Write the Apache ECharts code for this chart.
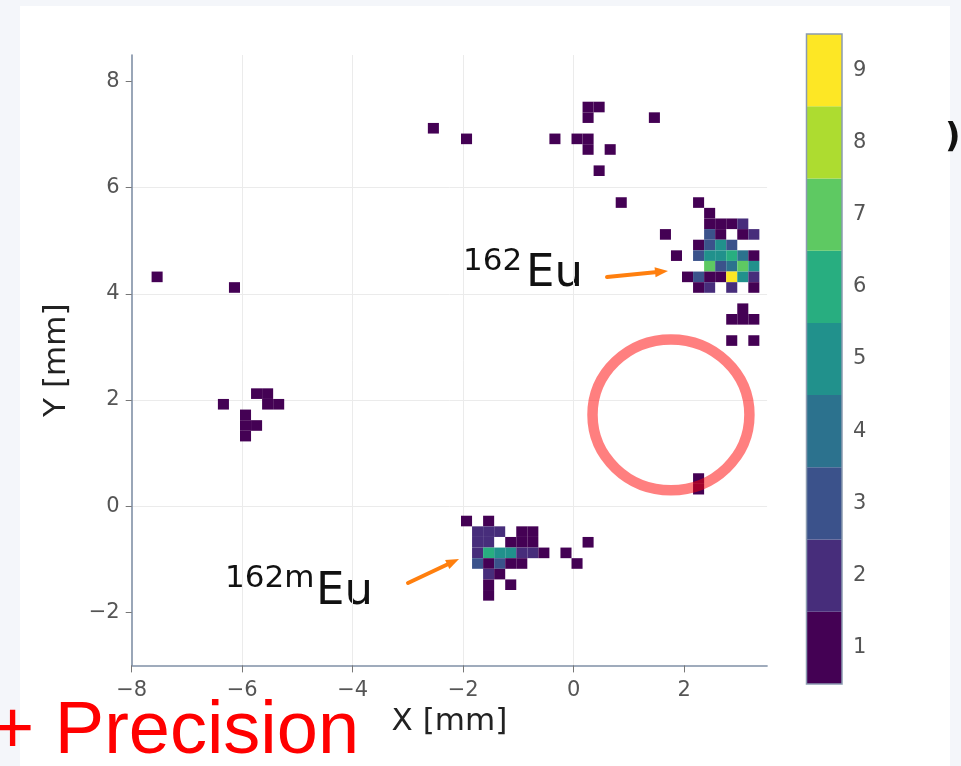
<!DOCTYPE html>
<html>
<head>
<meta charset="utf-8">
<title>162Eu / 162mEu hit map</title>
<script src="https://cdn.jsdelivr.net/npm/echarts@6/dist/echarts.min.js"></script>
<style>
  html, body { margin: 0; padding: 0; background: #f4f6fa; }
  #panel { position: absolute; left: 20px; top: 6px; width: 930px; height: 760px; background: #fff; }
  #chart { position: absolute; left: 0; top: 0; width: 961px; height: 766px; }
</style>
</head>
<body>
<div id="panel"></div>
<div id="chart"></div>
<script>
  var binSize = 0.2;

  // counts per 0.2 mm bin: [x centre, y centre, counts]
  var eu162Cells = [
    [2.26, 5.72, 1], [2.46, 5.52, 1],
    [2.46, 5.32, 1], [2.66, 5.32, 1], [2.86, 5.32, 1], [3.06, 5.32, 2],
    [1.66, 5.12, 1], [2.46, 5.12, 3], [2.66, 5.12, 1], [3.06, 5.12, 1], [3.26, 5.12, 2],
    [2.26, 4.92, 1], [2.46, 4.92, 3], [2.66, 4.92, 5], [2.86, 4.92, 3],
    [1.86, 4.72, 1], [2.26, 4.72, 3], [2.46, 4.72, 5], [2.66, 4.72, 5], [2.86, 4.72, 6], [3.06, 4.72, 4], [3.26, 4.72, 1],
    [2.46, 4.52, 7], [2.66, 4.52, 3], [2.86, 4.52, 4], [3.06, 4.52, 7], [3.26, 4.52, 5],
    [2.06, 4.32, 1], [2.26, 4.32, 3], [2.46, 4.32, 1], [2.66, 4.32, 1], [2.86, 4.32, 9], [3.06, 4.32, 5], [3.26, 4.32, 2],
    [2.26, 4.12, 1], [2.46, 4.12, 2], [2.86, 4.12, 2], [3.26, 4.12, 1],
    [3.06, 3.72, 1], [2.86, 3.52, 1], [3.06, 3.52, 1], [3.26, 3.52, 1],
    [2.86, 3.12, 1], [3.26, 3.12, 1]
  ];

  var eu162mCells = [
    [-1.94, -0.28, 1], [-1.54, -0.28, 1],
    [-1.74, -0.48, 2], [-1.54, -0.48, 2], [-1.34, -0.48, 2], [-0.94, -0.48, 1], [-0.74, -0.48, 1],
    [-1.74, -0.68, 2], [-1.54, -0.68, 2], [-1.14, -0.68, 1], [-0.94, -0.68, 1], [-0.74, -0.68, 1], [0.26, -0.68, 1],
    [-1.74, -0.88, 2], [-1.54, -0.88, 6], [-1.34, -0.88, 5], [-1.14, -0.88, 5], [-0.94, -0.88, 2], [-0.74, -0.88, 2],
    [-0.54, -0.88, 1], [-0.14, -0.88, 1],
    [-1.74, -1.08, 3], [-1.54, -1.08, 1], [-1.34, -1.08, 3], [-1.14, -1.08, 1], [-0.94, -1.08, 1], [0.06, -1.08, 1],
    [-1.54, -1.28, 2], [-1.34, -1.28, 1],
    [-1.54, -1.48, 1], [-1.14, -1.48, 1],
    [-1.54, -1.68, 1]
  ];

  var otherCells = [
    [-2.54, 7.12, 1], [-1.94, 6.92, 1], [-0.34, 6.92, 1], [0.06, 6.92, 1], [0.26, 6.92, 1],
    [0.26, 6.72, 1], [0.26, 7.52, 1], [0.46, 7.52, 1], [0.26, 7.32, 1], [0.66, 6.72, 1],
    [0.46, 6.32, 1], [1.46, 7.32, 1], [0.86, 5.72, 1],
    [-7.54, 4.32, 1], [-6.14, 4.12, 1], [-6.34, 1.92, 1], [-5.74, 2.12, 1], [-5.54, 2.12, 1],
    [-5.54, 1.92, 1], [-5.34, 1.92, 1], [-5.94, 1.72, 1], [-5.94, 1.52, 1], [-5.94, 1.32, 1],
    [-5.74, 1.52, 1],
    [2.26, 0.52, 1], [2.26, 0.32, 1]
  ];

  // source spot: centre x, centre y, radius (mm)
  var sourceCircle = [[1.76, 1.72, 1.42]];

  var countLevels = [1, 2, 3, 4, 5, 6, 7, 8, 9];
  var levelColors = ['#440154', '#472d7b', '#3b528b', '#2c728e', '#21918c',
                     '#28ae80', '#5ec962', '#addc30', '#fde725'];
  var xTicks = [-8, -6, -4, -2, 0, 2];
  var yTicks = [-2, 0, 2, 4, 6, 8];

  var font = 'DejaVu Sans';
  var axisColor = '#8090a6';

  function minusLabel(v) {
    return v < 0 ? '\u2212' + Math.abs(v) : String(v);
  }

  function renderCell(params, api) {
    var p = api.coord([api.value(0) - binSize / 2, api.value(1) + binSize / 2]);
    var s = api.size([binSize, binSize]);
    return {
      type: 'rect',
      shape: { x: p[0], y: p[1], width: s[0], height: s[1] },
      style: { fill: levelColors[api.value(2) - 1] }
    };
  }

  function renderLevel(params, api) {
    var v = api.value(1);
    var p = api.coord([0, v + 0.5]);
    var s = api.size([1, 1]);
    return {
      type: 'rect',
      shape: { x: p[0], y: p[1], width: s[0], height: s[1] },
      style: { fill: levelColors[v - 1] }
    };
  }

  function renderRing(params, api) {
    var c = api.coord([api.value(0), api.value(1)]);
    var r = api.size([api.value(2), api.value(2)]);
    return {
      type: 'ellipse',
      shape: { cx: c[0], cy: c[1], rx: r[0], ry: r[1] },
      style: { fill: 'none', stroke: 'rgba(255,0,0,0.5)', lineWidth: 10.5 }
    };
  }

  function arrow(x1, y1, x2, y2) {
    var a = Math.atan2(y2 - y1, x2 - x1);
    var len = 13, half = 5;
    var bx = x2 - len * Math.cos(a), by = y2 - len * Math.sin(a);
    return [
      { type: 'line', shape: { x1: x1, y1: y1, x2: bx, y2: by },
        style: { stroke: '#ff7f0e', lineWidth: 4, lineCap: 'round' } },
      { type: 'polygon', shape: { points: [
          [x2, y2],
          [bx + half * Math.sin(a), by - half * Math.cos(a)],
          [bx - half * Math.sin(a), by + half * Math.cos(a)]
        ] }, style: { fill: '#ff7f0e' } }
    ];
  }

  var chart = echarts.init(document.getElementById('chart'));

  var graphics = [
    { type: 'text', x: 463, y: 262, style: { text: '162', font: '31px "DejaVu Sans"', fill: '#111', verticalAlign: 'middle' } },
    { type: 'text', x: 526, y: 274, style: { text: 'Eu', font: '45px "DejaVu Sans"', fill: '#111', verticalAlign: 'middle' } },
    { type: 'text', x: 225, y: 579, style: { text: '162m', font: '31px "DejaVu Sans"', fill: '#111', verticalAlign: 'middle' } },
    { type: 'text', x: 316, y: 592, style: { text: 'Eu', font: '45px "DejaVu Sans"', fill: '#111', verticalAlign: 'middle' } },
    { type: 'text', x: -9, y: 733, style: { text: '+ Precision', font: '74px "Liberation Sans"', fill: '#ff0000', verticalAlign: 'middle' } },
    { type: 'text', x: 945, y: 138, style: { text: ')', font: 'bold 34px "DejaVu Sans"', fill: '#111', verticalAlign: 'middle' } }
  ].concat(arrow(607, 277, 668, 271), arrow(408, 583, 459, 559));

  chart.setOption({
    animation: false,
    grid: [
      { left: 131.7, right: 193.9, top: 55, bottom: 100.6 },
      { left: 806.5, width: 35.5, top: 34, height: 650, show: true, z: 5,
        backgroundColor: 'transparent', borderColor: '#8a9ab0', borderWidth: 1.5 }
    ],
    xAxis: [
      {
        gridIndex: 0, type: 'value', min: -8, max: 3.5,
        name: 'X [mm]', nameLocation: 'middle', nameGap: 36,
        nameTextStyle: { fontFamily: font, fontSize: 31, color: '#222' },
        axisLine: { show: true, onZero: false, lineStyle: { color: axisColor, width: 1.6 } },
        axisTick: { show: true, length: 7, customValues: xTicks, lineStyle: { color: '#777' } },
        axisLabel: { customValues: xTicks, formatter: minusLabel, margin: 15,
                     fontFamily: font, fontSize: 21, color: '#555' },
        splitLine: { show: true, showMinLine: false, showMaxLine: false,
                     lineStyle: { color: '#ebebeb', width: 1 } }
      },
      { gridIndex: 1, type: 'value', min: 0, max: 1, show: false }
    ],
    yAxis: [
      {
        gridIndex: 0, type: 'value', min: -3, max: 8.5,
        name: 'Y [mm]', nameLocation: 'middle', nameGap: 59,
        nameTextStyle: { fontFamily: font, fontSize: 31, color: '#222' },
        axisLine: { show: true, onZero: false, lineStyle: { color: axisColor, width: 1.6 } },
        axisTick: { show: true, length: 6, customValues: yTicks, lineStyle: { color: '#777' } },
        axisLabel: { customValues: yTicks, formatter: minusLabel, margin: 12,
                     fontFamily: font, fontSize: 21, color: '#555' },
        splitLine: { show: true, showMinLine: false, showMaxLine: false,
                     lineStyle: { color: '#ebebeb', width: 1 } }
      },
      {
        gridIndex: 1, type: 'value', min: 0.5, max: 9.5, position: 'right',
        axisLine: { show: false },
        axisTick: { show: true, length: 6, customValues: countLevels, lineStyle: { color: '#777' } },
        axisLabel: { customValues: countLevels, margin: 11, fontFamily: font, fontSize: 21, color: '#555' },
        splitLine: { show: false }
      }
    ],
    series: [
      { type: 'custom', name: 'other', xAxisIndex: 0, yAxisIndex: 0, renderItem: renderCell,
        data: otherCells, encode: { x: 0, y: 1 } },
      { type: 'custom', name: '162mEu', xAxisIndex: 0, yAxisIndex: 0, renderItem: renderCell,
        data: eu162mCells, encode: { x: 0, y: 1 } },
      { type: 'custom', name: '162Eu', xAxisIndex: 0, yAxisIndex: 0, renderItem: renderCell,
        data: eu162Cells, encode: { x: 0, y: 1 } },
      { type: 'custom', name: 'source', xAxisIndex: 0, yAxisIndex: 0, renderItem: renderRing,
        data: sourceCircle, encode: { x: 0, y: 1 } },
      { type: 'custom', name: 'colorbar', xAxisIndex: 1, yAxisIndex: 1, renderItem: renderLevel,
        data: countLevels.map(function (v) { return [0, v]; }), encode: { x: 0, y: 1 } }
    ],
    graphic: graphics
  });
</script>
</body>
</html>
